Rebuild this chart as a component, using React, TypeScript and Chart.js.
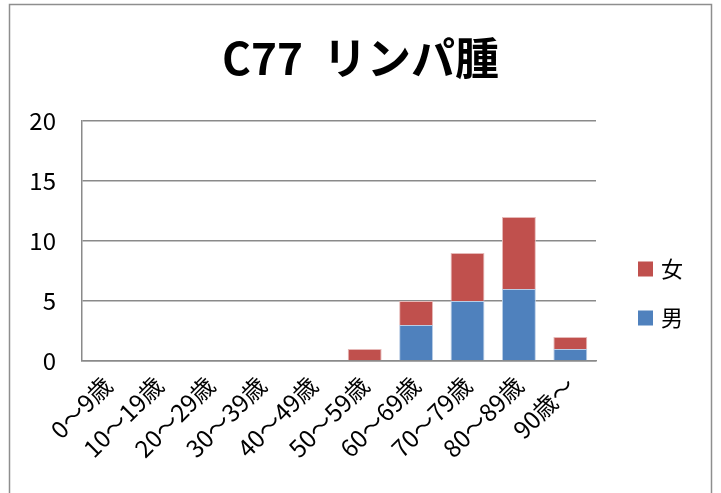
import React, { useEffect, useRef } from "react";
import { Chart, registerables } from "chart.js";

Chart.register(...registerables);

const TITLE = "C77  リンパ腫";
const categories = ["0～9歳", "10～19歳", "20～29歳", "30～39歳", "40～49歳", "50～59歳", "60～69歳", "70～79歳", "80～89歳", "90歳～"];
const maleValues = [0, 0, 0, 0, 0, 0, 3, 5, 6, 1];
const femaleValues = [0, 0, 0, 0, 0, 1, 2, 4, 6, 1];
const maleLabel = "男";
const femaleLabel = "女";
const yMax = 20;
const yStep = 5;

const FONT = "'Noto Sans CJK JP', 'Noto Sans', sans-serif";

const framePlugin = {
  id: "frame",
  beforeDraw(chart: any) {
    const ctx = chart.ctx;
    ctx.save();
    ctx.fillStyle = "#ffffff";
    ctx.fillRect(0, 0, chart.width, chart.height);
    ctx.strokeStyle = "#8e8e8e";
    ctx.lineWidth = 1.5;
    ctx.strokeRect(9.5, 4.5, 702, 600);
    ctx.restore();
  },
};

const titlePlugin = {
  id: "customTitle",
  afterDraw(chart: any) {
    const ctx = chart.ctx;
    ctx.save();
    ctx.font = `bold 44px ${FONT}`;
    ctx.fillStyle = "#000000";
    ctx.textAlign = "center";
    ctx.textBaseline = "middle";
    ctx.fillText(TITLE, chart.width / 2, 58);
    ctx.restore();
  },
};

const legendPlugin = {
  id: "customLegend",
  afterDraw(chart: any) {
    const ctx = chart.ctx;
    const ds = chart.data.datasets.slice().reverse();
    ctx.save();
    ctx.font = `22px ${FONT}`;
    ctx.textBaseline = "middle";
    ctx.textAlign = "left";
    const x = 638;
    const startY = 269;
    const gap = 49;
    ds.forEach((d: any, i: number) => {
      const cy = startY + i * gap;
      ctx.fillStyle = d.backgroundColor;
      ctx.fillRect(x, cy - 7.5, 15, 15);
      ctx.fillStyle = "#000000";
      ctx.fillText(d.label, x + 23, cy);
    });
    ctx.restore();
  },
};

export default function App() {
  const ref = useRef<HTMLCanvasElement>(null);
  useEffect(() => {
    if (!ref.current) return;
    const chart = new Chart(ref.current, {
      type: "bar",
      data: {
        labels: categories,
        datasets: [
          {
            label: maleLabel,
            data: maleValues,
            backgroundColor: "#4F81BD",
            borderColor: "#b9cde5",
            borderWidth: 1,
            barPercentage: 0.66,
            categoryPercentage: 1,
          },
          {
            label: femaleLabel,
            data: femaleValues,
            backgroundColor: "#C0504D",
            borderColor: "#e6b9b8",
            borderWidth: 1,
            barPercentage: 0.66,
            categoryPercentage: 1,
          },
        ],
      },
      options: {
        animation: false,
        responsive: false,
        maintainAspectRatio: false,
        devicePixelRatio: 1,
        layout: { padding: { left: 0, top: 121, right: 125, bottom: 0 } },
        plugins: {
          legend: { display: false },
          tooltip: { enabled: false },
          title: { display: false },
        },
        scales: {
          x: {
            stacked: true,
            grid: { display: true, drawOnChartArea: false, drawTicks: false },
            border: { display: true, color: "#8a8a8a", width: 1.5 },
            ticks: {
              color: "#000000",
              font: { family: FONT, size: 24 },
              minRotation: 45,
              maxRotation: 45,
              padding: 10,
              autoSkip: false,
            },
            afterFit: (scale: any) => {
              scale.height = 132;
            },
          },
          y: {
            stacked: true,
            min: 0,
            max: yMax,
            grid: { color: "#8a8a8a", lineWidth: 1.5, drawTicks: false },
            border: { display: true, color: "#8a8a8a", width: 1.5 },
            ticks: {
              stepSize: yStep,
              color: "#000000",
              font: { family: FONT, size: 24 },
              padding: 26,
            },
            afterFit: (scale: any) => {
              scale.width = 82;
            },
          },
        },
      },
      plugins: [framePlugin, titlePlugin, legendPlugin],
    });
    return () => chart.destroy();
  }, []);
  return (
    <div style={{ position: "fixed", left: 0, top: 0, width: 721, height: 493 }}>
      <canvas ref={ref} width={721} height={493} style={{ display: "block", width: 721, height: 493 }} />
    </div>
  );
}
